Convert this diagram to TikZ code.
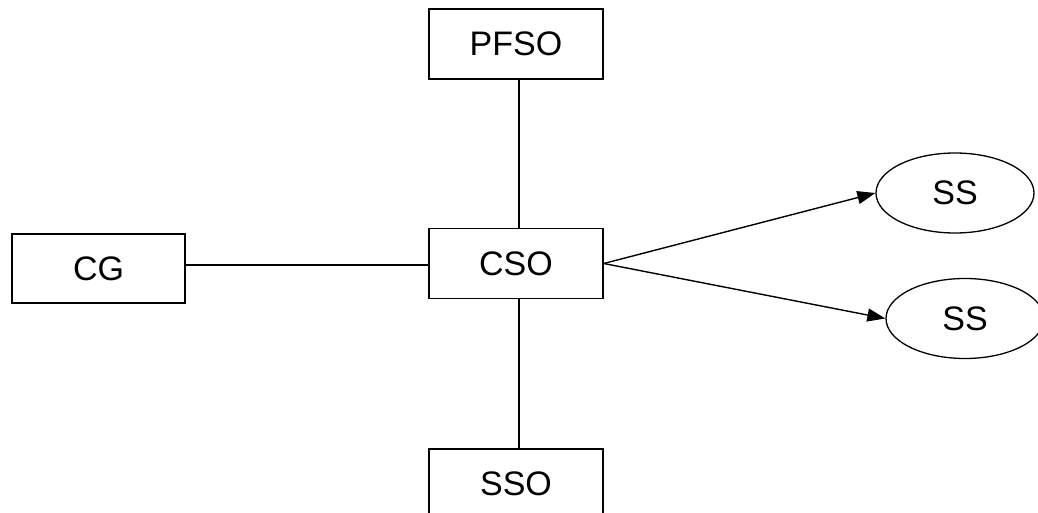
\documentclass[tikz,border=0pt]{standalone}
\usepackage{fontspec}
\setmainfont{Liberation Sans}
\usetikzlibrary{arrows.meta, positioning, shapes.geometric}

\begin{document}
\begin{tikzpicture}[x=1pt,y=-1pt,
  box/.style={draw,line width=1.5pt,rectangle,minimum width=174pt,minimum height=70pt,inner sep=0pt,font=\fontsize{34}{40}\selectfont},
  unit/.style={draw,line width=1.3pt,ellipse,minimum width=158pt,minimum height=80pt,inner sep=0pt,font=\fontsize{34}{40}\selectfont},
  link/.style={line width=1.4pt},
  flow/.style={line width=1.4pt,-{Triangle[length=18pt,width=13pt]}}]
\useasboundingbox (0,0) rectangle (1038,513);
\node[box] (cso) at (516,263.5) {CSO};
\node[box,above=148pt of cso] (pfso) {PFSO};
\node[box,below=149pt of cso] (sso) {SSO};
\node[box,minimum width=173pt,minimum height=69pt] (cg) at (98.5,268.5) {CG};
\node[unit] (ss1) at (955,193) {SS};
\node[unit] (ss2) at (965,318.5) {SS};
\draw[link] ([xshift=3pt]pfso.south) -- ([xshift=3pt]cso.north);
\draw[link] ([xshift=3pt]cso.south) -- ([xshift=3pt]sso.north);
\draw[link] (cg.east |- 0,265) -- (cso.west |- 0,265);
\draw[flow] (cso.east) -- (ss1.west);
\draw[flow] (cso.east) -- (ss2.west);
\end{tikzpicture}
\end{document}
